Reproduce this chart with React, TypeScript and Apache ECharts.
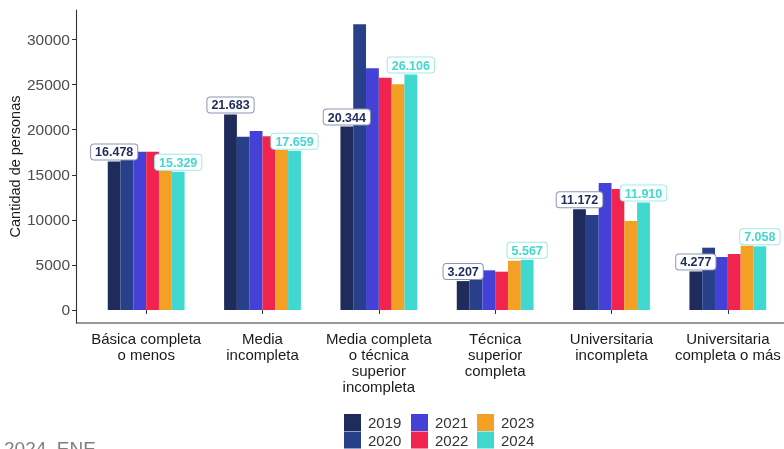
import React, { useEffect, useRef } from "react";
import * as echarts from "echarts";

const categories = [
  "Básica completa\no menos",
  "Media\nincompleta",
  "Media completa\no técnica\nsuperior\nincompleta",
  "Técnica\nsuperior\ncompleta",
  "Universitaria\nincompleta",
  "Universitaria\ncompleta o más",
];
const years = ["2019", "2020", "2021", "2022", "2023", "2024"];
const s2019 = [16478, 21683, 20344, 3207, 11172, 4277];
const s2020 = [17000, 19220, 31690, 3400, 10540, 6910];
const s2021 = [17560, 19850, 26800, 4400, 14080, 5880];
const s2022 = [17560, 19260, 25760, 4250, 13420, 6210];
const s2023 = [15450, 17750, 25030, 5470, 9870, 7130];
const s2024 = [15329, 17659, 26106, 5567, 11910, 7058];
const seriesValues = [s2019, s2020, s2021, s2022, s2023, s2024];
const colors = ["#1e2b5b", "#28408a", "#4341d6", "#f1234f", "#f3a024", "#40d8cf"];
const labelBorders = ["#8d95b2", "#8d95b2", "#8d95b2", "#8d95b2", "#8d95b2", "#9fe9e4"];
const yTicks = [0, 5000, 10000, 15000, 20000, 25000, 30000];
const sourceText = "2024, ENE";

const fmt = (v: number) => String(Math.round(v)).replace(/\B(?=(\d{3})+(?!\d))/g, ".");

export default function App() {
  const ref = useRef<HTMLDivElement>(null);
  useEffect(() => {
    if (!ref.current) return;
    const chart = echarts.init(ref.current, undefined, { renderer: "svg" });
    const font = "'Liberation Sans', Arial, sans-serif";
    const series = years.map((y, i) => ({
      name: y,
      type: "bar",
      data: seriesValues[i],
      barWidth: 12.8,
      barGap: "0%",
      itemStyle: { color: colors[i] },
      label:
        i === 0 || i === 5
          ? {
              show: true,
              position: "top",
              distance: 2,
              formatter: (p: any) => fmt(p.value),
              color: colors[i],
              fontWeight: "bold",
              fontSize: 12.5,
              fontFamily: font,
              backgroundColor: "#ffffff",
              borderColor: labelBorders[i],
              borderWidth: 1,
              borderRadius: 3,
              padding: [1, 4, 0, 4],
              lineHeight: 14,
            }
          : { show: false },
    }));
    const legendCols = [344, 344, 411, 411, 477, 477];
    const legendRows = [414, 431.5, 414, 431.5, 414, 431.5];
    chart.setOption({
      animation: false,
      textStyle: { fontFamily: font },
      grid: { left: 88, right: -2, top: 10, height: 313, containLabel: false, outerBoundsMode: "none" },
      xAxis: {
        type: "category",
        data: categories,
        axisLine: { show: false },
        axisTick: { show: true, alignWithLabel: true, length: 4, lineStyle: { color: "#333", width: 1 } },
        axisLabel: {
          interval: 0,
          fontSize: 15,
          lineHeight: 16,
          color: "#1a1a1a",
          margin: 7,
          fontFamily: font,
          hideOverlap: false,
        },
      },
      yAxis: {
        type: "value",
        min: -1442,
        max: 33272,
        offset: 12,
        name: "Cantidad de personas",
        nameLocation: "middle",
        nameGap: 54,
        nameMoveOverlap: false,
        nameTextStyle: { fontSize: 14.5, color: "#1a1a1a", fontFamily: font },
        axisLine: { show: true, lineStyle: { color: "#333", width: 1.1 } },
        axisTick: { show: true, length: 4, customValues: yTicks, lineStyle: { color: "#333" } },
        axisLabel: {
          customValues: yTicks,
          formatter: (v: number) => String(v),
          fontSize: 15.5,
          color: "#4d4d4d",
          margin: 6,
          fontFamily: font,
        },
        splitLine: { show: false },
      },
      legend: years.map((y, i) => ({
        orient: "horizontal",
        left: legendCols[i],
        top: legendRows[i],
        data: [y],
        icon: "rect",
        itemWidth: 17,
        itemHeight: 17,
        padding: 0,
        textStyle: { fontSize: 15, color: "#333", fontFamily: font, padding: [0, 0, 0, 2] },
        selectedMode: false,
      })),
      graphic: [
        {
          type: "line",
          shape: { x1: 76, y1: 323, x2: 784, y2: 323 },
          style: { stroke: "#333", lineWidth: 1.1 },
          silent: true,
        },
        {
          type: "text",
          x: 4,
          y: 439,
          style: { text: sourceText, fontSize: 19, fill: "#808080", fontFamily: font, textVerticalAlign: "top" },
          silent: true,
        },
      ],
      series,
    });
    return () => chart.dispose();
  }, []);
  return <div ref={ref} style={{ position: "fixed", left: 0, top: 0, width: 784, height: 449 }} />;
}
